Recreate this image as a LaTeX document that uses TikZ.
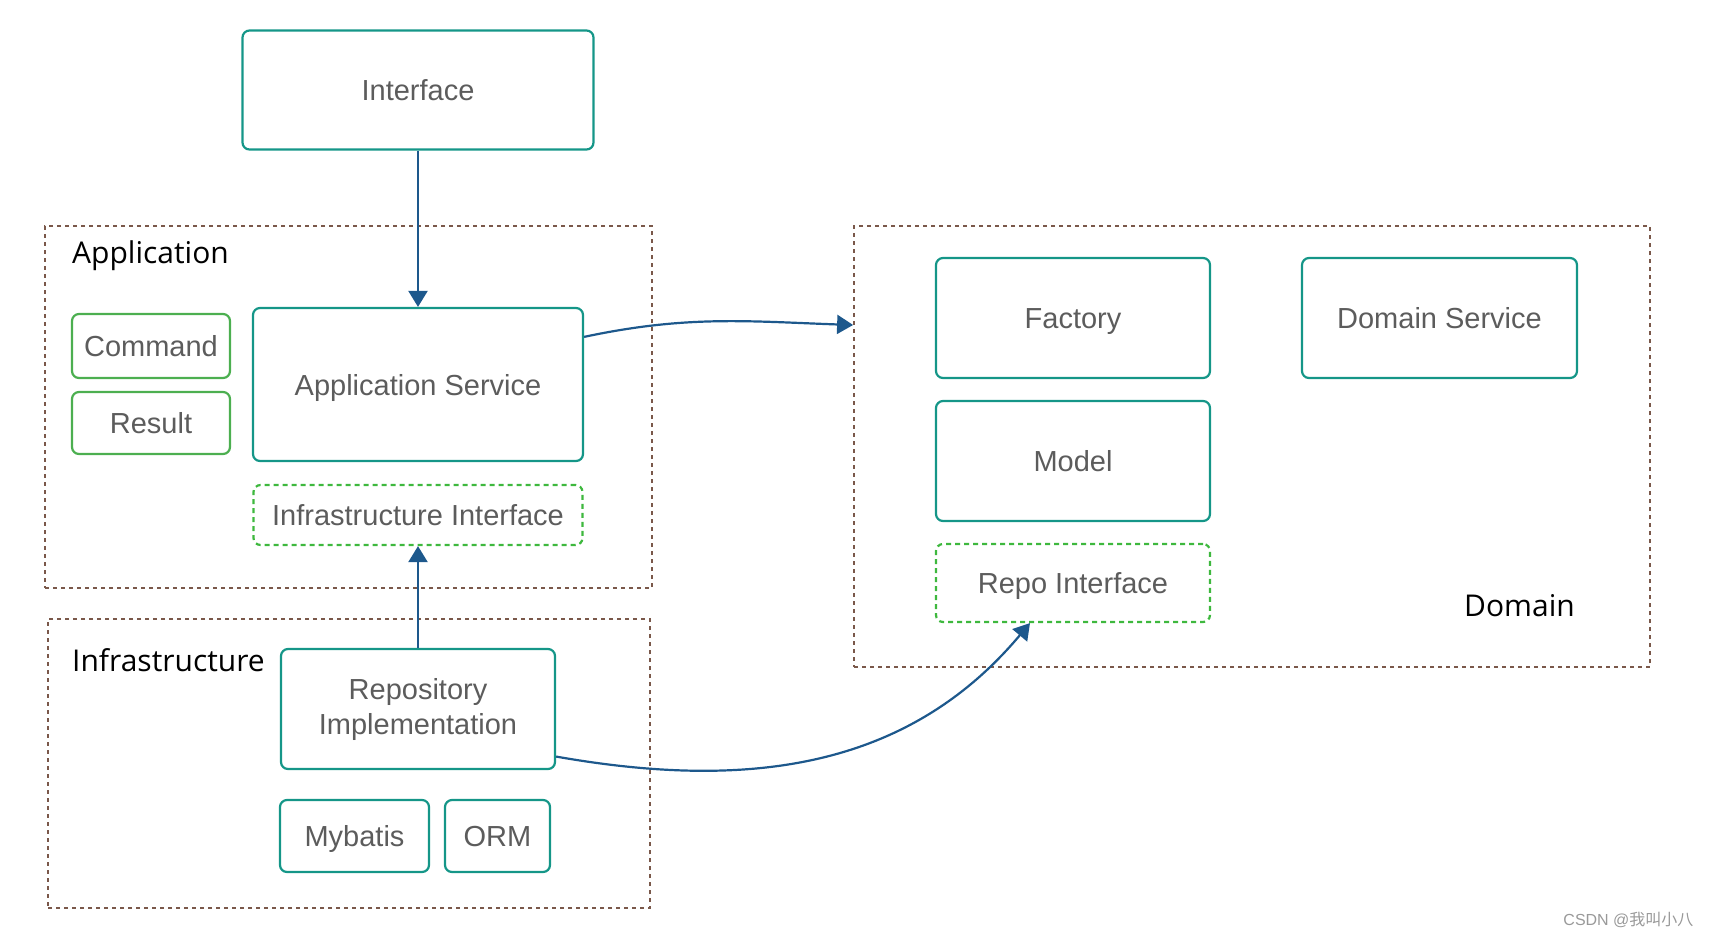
\documentclass[tikz,border=0pt]{standalone}
\usepackage{fontspec}
\setmainfont{Liberation Sans}
\newfontfamily\layerfont{Open Sans}
\newfontfamily\cjkfont{Noto Sans CJK SC}
\usetikzlibrary{arrows.meta}
\definecolor{boxteal}{RGB}{21,150,136}
\definecolor{boxgreen}{RGB}{76,175,80}
\definecolor{ifgreen}{RGB}{62,184,62}
\definecolor{layerbrown}{RGB}{122,88,74}
\definecolor{flowblue}{RGB}{29,88,140}
\definecolor{textgray}{RGB}{92,92,92}

\begin{document}
\begin{tikzpicture}[x=1pt,y=-1pt,
	frame/.style={draw=boxteal,line width=2.2pt,rounded corners=7pt,text=textgray,
		font=\fontsize{29}{35}\selectfont,align=center,inner sep=0pt},
	box/.style={frame,text height=21pt,text depth=0pt},
	msgbox/.style={box,draw=boxgreen},
	ifbox/.style={box,draw=ifgreen,dash pattern=on 5pt off 4pt},
	layer/.style={draw=layerbrown,line width=1.8pt,dash pattern=on 4pt off 4pt,inner sep=0pt},
	layername/.style={font=\layerfont\fontsize{30}{34}\selectfont,inner sep=0pt},
	flow/.style={draw=flowblue,line width=2.2pt,-{Triangle[length=16pt,width=19pt]}}]
	\useasboundingbox (0,0) rectangle (1712,938);
	\path
	(348.5,407) coordinate (appC)
	(349,763.5) coordinate (infraC)
	(1252,446.5) coordinate (domC)
	;
	\node[layer,minimum width=607,minimum height=362] (app) at (appC) {};
	\node[layer,minimum width=602,minimum height=289] (infra) at (infraC) {};
	\node[layer,minimum width=796,minimum height=441] (domain) at (domC) {};
	\node[layername,anchor=west] (appname) at (72,256) {Application};
	\node[layername,anchor=west] (infraname) at (72,660) {Infrastructure};
	\node[layername,anchor=east] (domname) at (1575,606) {Domain};

	\node[box,minimum width=351,minimum height=119] (iface) at (418,90) {Interface};
	\node[box,minimum width=330,minimum height=153] (appsvc) at (418,384.5) {Application Service};
	\node[msgbox,minimum width=158,minimum height=64] (cmd) at (151,346) {Command};
	\node[msgbox,minimum width=158,minimum height=62] (res) at (151,423) {Result};
	\node[ifbox,minimum width=329,minimum height=60] (infif) at (418,515) {Infrastructure Interface};

	\node[frame,minimum width=274,minimum height=120] (repoimpl) at (418,709) {Repository\\Implementation};
	\node[box,minimum width=149,minimum height=72] (mybatis) at (354.5,836) {Mybatis};
	\node[box,minimum width=105,minimum height=72] (orm) at (497.5,836) {ORM};

	\node[box,minimum width=274,minimum height=120] (factory) at (1073,318) {Factory};
	\node[box,minimum width=275,minimum height=120] (domsvc) at (1439.5,318) {Domain Service};
	\node[box,minimum width=274,minimum height=120] (model) at (1073,461) {Model};
	\node[ifbox,minimum width=274,minimum height=78] (repoif) at (1073,583) {Repo Interface};

	\node[anchor=east,text=black!40,font=\fontsize{16}{19}\selectfont] (mark) at (1697,920) {CSDN @{\cjkfont 我叫小八}};

	\draw[flow] (iface) -- (appsvc);
	\draw[flow] (repoimpl) -- (infif);
	\draw[flow] (appsvc.16) to[out=12,in=178] ([yshift=121.5pt]domain.west);
	\draw[flow] (repoimpl.-19) to[out=-10,in=-130] ([xshift=-43pt]repoif.south);
\end{tikzpicture}
\end{document}
